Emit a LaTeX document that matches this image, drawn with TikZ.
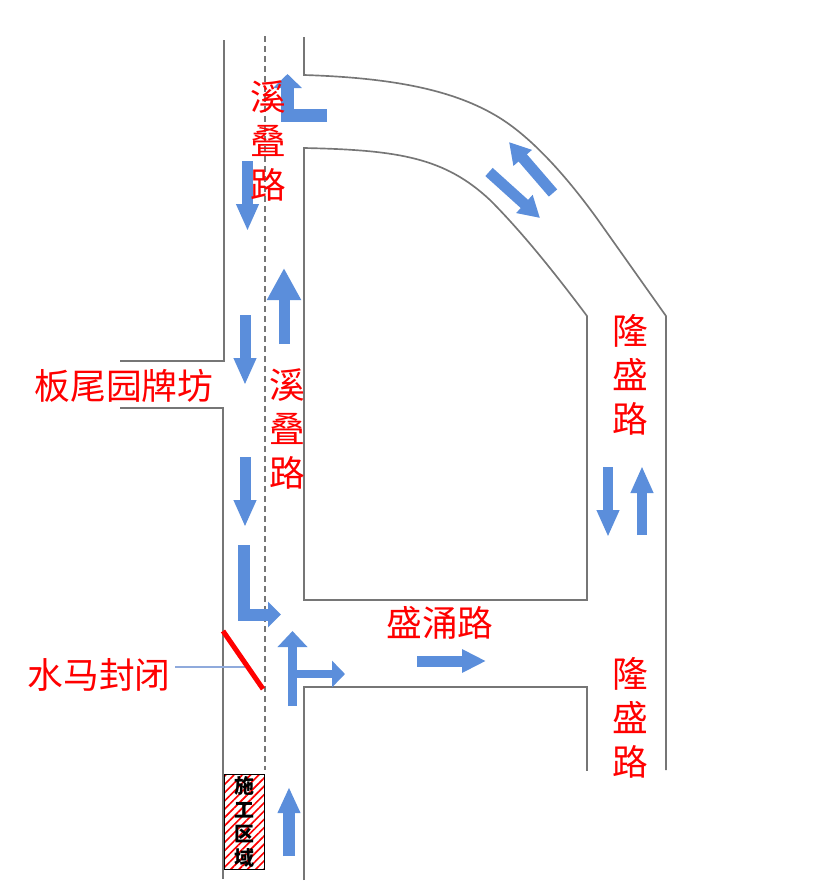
\documentclass[tikz,border=0pt]{standalone}
\usepackage{fontspec}
\setmainfont{Noto Sans CJK SC}
\usetikzlibrary{arrows.meta, patterns.meta}
\definecolor{roadgray}{HTML}{767676}
\definecolor{arrowblue}{HTML}{5B8EDB}
\definecolor{leaderblue}{HTML}{8FAADC}
\tikzstyle{road_line} = [draw=roadgray, line width=0.05cm]
\tikzstyle{center_line} = [draw=roadgray, line width=0.055cm, dash pattern=on 0.19cm off 0.11cm]
\tikzstyle{road_label} = [text=red, inner sep=0pt, align=center, font=\fontsize{30.5}{37.5}\selectfont]
\tikzstyle{barrier_line} = [draw=red, line width=0.15cm]
\tikzstyle{leader_line} = [draw=leaderblue, line width=0.04cm]
\tikzstyle{work_zone} = [draw=black, line width=0.05cm, minimum width=1.2cm, minimum height=2.85cm, inner sep=0pt, align=center, pattern={Lines[angle=45, distance=5pt, line width=1.4pt]}, pattern color=red, font=\fontsize{17}{20.5}\selectfont\bfseries]
\tikzset{block_arrow/.style n args={3}{draw=arrowblue, line width=#1, -{Triangle[length=#2, width=#3]}, line join=miter}}

\begin{document}
\begin{tikzpicture}[x=0.03cm, y=-0.03cm]
\useasboundingbox (0,0) rectangle (815,893);

% road edges
\draw [road_line] (224,40) -- (224,361) -- (120,361);
\draw [road_line] (120,408) -- (223,408) -- (223,879);
\draw [road_line] (304,37) -- (304,75) .. controls (400,78) and (460,92) .. (503,120) .. controls (535,141) and (570,180) .. (603,227) -- (666,316) -- (666,770);
\draw [road_line] (304,148) .. controls (400,150) and (445,158) .. (490,200) .. controls (525,235) and (560,280) .. (587,316) -- (587,600) -- (304,600) -- cycle;
\draw [road_line] (304,880) -- (304,687) -- (587,687) -- (587,771);
\draw [center_line] (265,36) -- (265,770);

% work zone and barrier
\node (work_area) [work_zone] at (244.5,822) {施\\工\\区\\域};
\coordinate (barrier_top) at (223,631);
\coordinate (barrier_end) at (263,689);
\coordinate (barrier_mid) at (245,667);
\node (label_barrier) [road_label] at (99,675) {水马封闭};
\draw [leader_line] (175,667) -- (barrier_mid);
\draw [barrier_line] (barrier_top) -- (barrier_end);

% traffic arrows
\draw [block_arrow={0.39cm}{0.42cm}{0.84cm}] (327,115.5) -- (287.5,115.5) -- (287.5,74);
\draw [block_arrow={0.33cm}{0.81cm}{0.63cm}] (247.5,161) -- (247.5,231);
\draw [block_arrow={0.33cm}{0.81cm}{0.63cm}] (245,315) -- (245,385);
\draw [block_arrow={0.33cm}{0.81cm}{0.63cm}] (245,457) -- (245,527);
\draw [block_arrow={0.33cm}{0.96cm}{0.96cm}] (284,344) -- (284,268);
\draw [block_arrow={0.36cm}{0.39cm}{0.75cm}] (244,545) -- (244,614.5) -- (281,614.5);
\draw [block_arrow={0.27cm}{0.48cm}{0.87cm}] (292.5,706) -- (292.5,631);
\draw [block_arrow={0.25cm}{0.39cm}{0.78cm}] (297,674) -- (345,674);
\draw [block_arrow={0.36cm}{0.78cm}{0.63cm}] (289,856) -- (289,787);
\draw [block_arrow={0.33cm}{0.72cm}{0.66cm}] (417,661) -- (486,661);
\draw [block_arrow={0.3cm}{0.81cm}{0.63cm}] (608,467) -- (608,537);
\draw [block_arrow={0.3cm}{0.81cm}{0.63cm}] (642,535) -- (642,466);
\draw [block_arrow={0.33cm}{0.63cm}{0.69cm}] (553,193) -- (509,142);
\draw [block_arrow={0.33cm}{0.63cm}{0.69cm}] (489,172) -- (540,218);

% road names
\node (xidie_top) [road_label] at (268,141) {溪\\叠\\路};
\node (xidie_mid) [road_label] at (287,429) {溪\\叠\\路};
\node (longsheng_top) [road_label] at (630,375) {隆\\盛\\路};
\node (longsheng_low) [road_label] at (630,718) {隆\\盛\\路};
\node (label_arch) [road_label] at (124,386) {板尾园牌坊};
\node (shengyong) [road_label] at (440,623) {盛涌路};
\end{tikzpicture}
\end{document}
